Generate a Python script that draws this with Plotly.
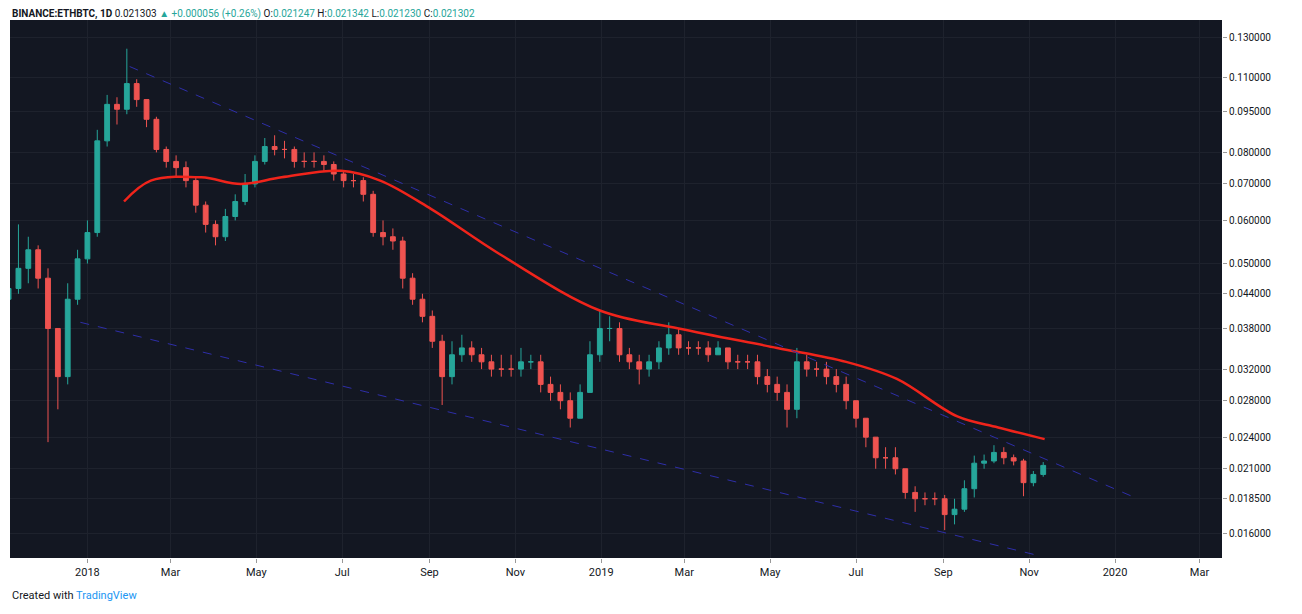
import plotly.graph_objects as go
import pandas as pd
import math

week_start = "2017-11-06"
closes = [0.045,0.049,0.053,0.047,0.038,0.031,0.043,0.051,0.057,0.084,
          0.098,0.096,0.107,0.100,0.092,0.081,0.077,0.075,0.071,0.064,
          0.059,0.056,0.061,0.065,0.070,0.077,0.082,0.081,0.081,0.077,
          0.077,0.077,0.076,0.073,0.071,0.071,0.067,0.057,0.056,0.055,
          0.047,0.043,0.040,0.036,0.031,0.034,0.035,0.034,0.033,0.032,
          0.032,0.032,0.033,0.033,0.030,0.029,0.028,0.026,0.029,0.034,
          0.038,0.038,0.034,0.033,0.032,0.033,0.035,0.037,0.035,0.035,
          0.035,0.034,0.035,0.033,0.033,0.033,0.031,0.030,0.029,0.027,
          0.033,0.032,0.032,0.031,0.030,0.028,0.026,0.024,0.022,0.022,
          0.021,0.019,0.0185,0.0185,0.0185,0.0173,0.0177,0.0193,0.0215,0.0217,
          0.0225,0.0220,0.0217,0.0198,0.0205,0.0213]
first_open = 0.043
highs = [0.047,0.059,0.056,0.054,0.049,0.034,0.046,0.053,0.060,0.088,
         0.102,0.101,0.124,0.109,0.100,0.093,0.082,0.079,0.077,0.072,
         0.065,0.060,0.063,0.067,0.073,0.079,0.085,0.086,0.084,0.082,
         0.080,0.080,0.079,0.077,0.074,0.073,0.072,0.068,0.060,0.058,
         0.056,0.048,0.044,0.041,0.037,0.036,0.037,0.036,0.035,0.034,
         0.034,0.034,0.035,0.034,0.034,0.031,0.030,0.029,0.030,0.036,
         0.041,0.040,0.039,0.035,0.034,0.034,0.036,0.039,0.038,0.036,
         0.036,0.036,0.036,0.035,0.034,0.034,0.034,0.032,0.031,0.030,
         0.035,0.034,0.033,0.033,0.032,0.031,0.028,0.026,0.024,0.023,
         0.023,0.021,0.0195,0.019,0.019,0.0188,0.0185,0.020,0.0222,0.0223,
         0.0232,0.0230,0.0223,0.0219,0.0208,0.0216]
lows = [0.040,0.044,0.046,0.045,0.0235,0.027,0.030,0.042,0.050,0.056,
        0.082,0.090,0.094,0.097,0.089,0.080,0.075,0.072,0.069,0.062,
        0.057,0.054,0.055,0.060,0.064,0.069,0.076,0.079,0.078,0.075,
        0.075,0.075,0.074,0.071,0.069,0.069,0.065,0.056,0.054,0.053,
        0.045,0.042,0.039,0.035,0.0275,0.030,0.033,0.033,0.032,0.031,
        0.031,0.031,0.031,0.032,0.029,0.028,0.027,0.025,0.026,0.029,
        0.033,0.036,0.033,0.032,0.030,0.031,0.032,0.034,0.034,0.034,
        0.034,0.033,0.034,0.032,0.032,0.032,0.030,0.029,0.028,0.025,
        0.026,0.031,0.031,0.030,0.029,0.027,0.025,0.023,0.021,0.021,
        0.0205,0.0185,0.0175,0.018,0.018,0.0162,0.0166,0.0175,0.0186,0.021,
        0.0215,0.0214,0.0213,0.0187,0.0195,0.0203]

ma_dates = ["2018-01-27","2018-02-15","2018-03-23","2018-04-20","2018-05-19","2018-06-30",
            "2018-07-28","2018-09-02","2018-10-21","2018-12-31","2019-02-25","2019-05-06",
            "2019-06-24","2019-07-30","2019-09-11","2019-10-10","2019-11-12"]
ma_vals = [0.065,0.071,0.072,0.070,0.072,0.074,0.071,0.063,0.052,0.041,0.038,0.0350,
           0.0330,0.0307,0.0262,0.0250,0.0238]

upper_dates = ["2018-01-31","2020-01-15"]
upper_vals = [0.115,0.0186]
lower_dates = ["2017-12-27","2019-11-10"]
lower_vals = [0.039,0.0145]

ytick_vals = [0.13,0.11,0.095,0.08,0.07,0.06,0.05,0.044,0.038,0.032,0.028,0.024,0.021,0.0185,0.016]
xtick_dates = ["2018-01-01","2018-03-01","2018-05-01","2018-07-01","2018-09-01","2018-11-01",
               "2019-01-01","2019-03-01","2019-05-01","2019-07-01","2019-09-01","2019-11-01",
               "2020-01-01","2020-03-01"]
xtick_text = ["2018","Mar","May","Jul","Sep","Nov","2019","Mar","May","Jul","Sep","Nov","2020","Mar"]

dates = pd.date_range(week_start, periods=len(closes), freq="7D")
opens = [first_open] + closes[:-1]

fig = go.Figure()
fig.add_trace(go.Candlestick(x=dates, open=opens, high=highs, low=lows, close=closes,
    increasing=dict(line=dict(color="#26a69a", width=1), fillcolor="#26a69a"),
    decreasing=dict(line=dict(color="#ef5350", width=1), fillcolor="#ef5350"),
    whiskerwidth=0, showlegend=False))
fig.add_trace(go.Scatter(x=ma_dates, y=ma_vals, mode="lines", line=dict(color="#f0241b", width=2.5, shape="spline"), showlegend=False))
for d, v in [(upper_dates, upper_vals), (lower_dates, lower_vals)]:
    fig.add_trace(go.Scatter(x=d, y=v, mode="lines", line=dict(color="#2e2ea8", width=1, dash="dash"), showlegend=False))

fig.update_layout(
    width=1286, height=598, paper_bgcolor="white", plot_bgcolor="#131722",
    margin=dict(l=2, r=72, t=12, b=48, autoexpand=False),
    font=dict(family="Roboto, Arial", size=11, color="#131722"),
    xaxis=dict(type="date", range=["2017-11-07","2020-03-17"], rangeslider=dict(visible=False),
               tickvals=xtick_dates, ticktext=xtick_text, showgrid=True, gridcolor="#1e222d",
               ticks="outside", ticklen=4, tickcolor="#999", showline=False, tickfont=dict(size=11)),
    yaxis=dict(type="log", side="right", range=[math.log10(0.0144), math.log10(0.140)],
               tickvals=ytick_vals, ticktext=[f"{v:.6f}" for v in ytick_vals],
               showgrid=True, gridcolor="#1e222d", ticks="outside", ticklen=4, tickcolor="#999",
               tickfont=dict(size=10)),
)
fig.add_annotation(xref="paper", yref="paper", x=0, y=1, xanchor="left", yanchor="bottom", yshift=-2,
    showarrow=False, align="left",
    text="<b>BINANCE:ETHBTC, 1D</b> 0.021303 <span style='color:#26a69a'>▲ +0.000056 (+0.26%)</span> O:<span style='color:#26a69a'>0.021247</span> H:<span style='color:#26a69a'>0.021342</span> L:<span style='color:#26a69a'>0.021230</span> C:<span style='color:#26a69a'>0.021302</span>",
    font=dict(size=10, color="#131722"))
fig.add_annotation(xref="paper", yref="paper", x=0, y=0, xanchor="left", yanchor="top", yshift=-29,
    showarrow=False, text="Created with <span style='color:#2196f3'>TradingView</span>",
    font=dict(size=11, color="#131722"))
fig.write_html("out.html")
